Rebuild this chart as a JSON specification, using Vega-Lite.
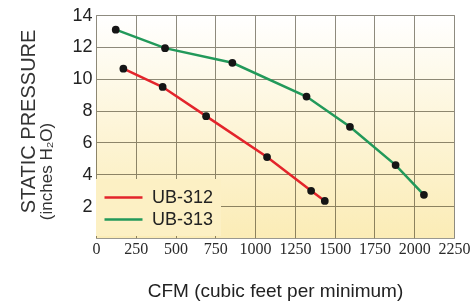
{
  "$schema": "https://vega.github.io/schema/vega-lite/v6.json",
  "autosize": {"type": "none"},
  "padding": {"left": 96, "top": 15, "right": 18, "bottom": 65},
  "width": 358,
  "height": 223,
  "background": "#ffffff",
  "config": {
    "view": {"stroke": "#9a9890", "strokeWidth": 1},
    "axis": {"gridColor": "#8e8b80", "gridWidth": 1, "gridOpacity": 1, "domain": false, "ticks": false}
  },
  "data": {"values": [
    {"cfm": 172, "sp": 10.63, "model": "UB-312"},
    {"cfm": 419, "sp": 9.48, "model": "UB-312"},
    {"cfm": 692, "sp": 7.65, "model": "UB-312"},
    {"cfm": 1075, "sp": 5.08, "model": "UB-312"},
    {"cfm": 1352, "sp": 2.96, "model": "UB-312"},
    {"cfm": 1438, "sp": 2.33, "model": "UB-312"},
    {"cfm": 124, "sp": 13.08, "model": "UB-313"},
    {"cfm": 434, "sp": 11.92, "model": "UB-313"},
    {"cfm": 857, "sp": 11.0, "model": "UB-313"},
    {"cfm": 1323, "sp": 8.88, "model": "UB-313"},
    {"cfm": 1596, "sp": 6.98, "model": "UB-313"},
    {"cfm": 1883, "sp": 4.58, "model": "UB-313"},
    {"cfm": 2061, "sp": 2.71, "model": "UB-313"}
  ]},
  "layer": [
    {
      "data": {"values": [{}]},
      "mark": {"type": "rect", "blend": "multiply",
        "color": {"gradient": "linear", "x1": 0, "y1": 0, "x2": 0, "y2": 1,
          "stops": [{"offset": 0, "color": "#ffffff"}, {"offset": 0.5, "color": "#fdf5d8"}, {"offset": 1, "color": "#fbecb6"}]}},
      "encoding": {}
    },
    {
      "mark": {"type": "line", "strokeWidth": 2.5},
      "encoding": {
        "x": {"field": "cfm", "type": "quantitative",
          "scale": {"domain": [0, 2250], "nice": false},
          "axis": {"values": [0, 250, 500, 750, 1000, 1250, 1500, 1750, 2000, 2250], "format": "d",
            "labelOverlap": false, "grid": true,
            "labelFont": "Liberation Sans Narrow", "labelFontSize": 16, "labelColor": "#2a2a2a",
            "labelPadding": 2, "labelFlush": false,
            "title": "CFM (cubic feet per minimum)", "titleFont": "Liberation Sans", "titleFontSize": 19,
            "titleFontWeight": "normal", "titleColor": "#222222", "titleY": 58, "titleBaseline": "alphabetic"}},
        "y": {"field": "sp", "type": "quantitative",
          "scale": {"domain": [0, 14], "nice": false},
          "axis": {"orient": "left", "values": [2, 4, 6, 8, 10, 12, 14], "grid": true, "labelOverlap": false,
            "labelFont": "Liberation Sans", "labelFontSize": 18, "labelColor": "#222222", "labelPadding": 4,
            "title": "(inches H₂O)", "titleFont": "Liberation Sans", "titleFontSize": 17, "titleFontWeight": "normal",
            "titleColor": "#333333", "titleX": -41, "titleY": 156}},
        "color": {"field": "model", "type": "nominal",
          "scale": {"domain": ["UB-312", "UB-313"], "range": ["#e3242b", "#22995a"]},
          "legend": {"title": null, "orient": "none", "legendX": 0, "legendY": 164,
            "fillColor": "#fcf0c4", "padding": 7, "symbolType": "M-1,0H2.8", "symbolSize": 400,
            "symbolStrokeWidth": 2.5, "labelFont": "Liberation Sans", "labelFontSize": 18,
            "labelColor": "#222222", "labelOffset": 26, "rowPadding": 1}}
      }
    },
    {
      "mark": {"type": "point", "filled": true, "color": "#151515", "size": 60, "opacity": 1},
      "encoding": {
        "x": {"field": "cfm", "type": "quantitative",
          "axis": {"values": [0, 250, 500, 750, 1000, 1250, 1500, 1750, 2000, 2250], "format": "d",
            "labelOverlap": false, "grid": true,
            "labelFont": "Liberation Sans Narrow", "labelFontSize": 16, "labelColor": "#2a2a2a",
            "labelPadding": 2, "labelFlush": false,
            "title": "CFM (cubic feet per minimum)", "titleFont": "Liberation Sans", "titleFontSize": 19,
            "titleFontWeight": "normal", "titleColor": "#222222", "titleY": 58, "titleBaseline": "alphabetic"}},
        "y": {"field": "sp", "type": "quantitative",
          "axis": {"orient": "left", "labels": false, "grid": false,
            "title": "STATIC PRESSURE", "titleFont": "Liberation Sans", "titleFontSize": 20, "titleFontWeight": "normal",
            "titleColor": "#333333", "titleX": -58, "titleY": 106}}
      }
    }
  ],
  "resolve": {"axis": {"y": "independent"}}
}
